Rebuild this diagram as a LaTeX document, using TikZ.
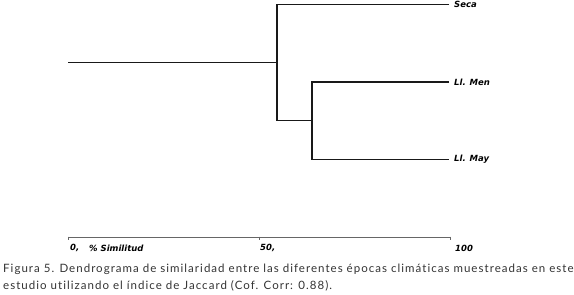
\documentclass[tikz,border=0pt]{standalone}
\usepackage{fontspec}
\setmainfont{Lato}[LetterSpace=9,Ligatures=NoCommon]
\newfontfamily\lblfont{DejaVu Sans}
\begin{document}
\begin{tikzpicture}[x=1pt,y=-1pt,
  branch/.style={line width=1.6pt,black!90},
  axisline/.style={line width=0.7pt,black!60},
  leaflabel/.style={anchor=west,inner sep=0pt,font=\lblfont\fontsize{8.5}{10}\selectfont\bfseries\itshape},
  axislabel/.style={anchor=west,inner sep=0pt,font=\lblfont\fontsize{8.5}{10}\selectfont\bfseries\itshape},
  caption/.style={anchor=west,inner sep=0pt,font=\fontsize{11.5}{13}\selectfont,text=black!80}]
\useasboundingbox (0,0) rectangle (574,295);
% coordinates
\coordinate (root) at (68,62.5);
\coordinate (n1) at (277,62.5);
\coordinate (n2) at (312,120.5);
\coordinate (seca) at (449,4.5);
\coordinate (men) at (449,82);
\coordinate (may) at (449,159.5);
% dendrogram
\draw[branch] (root) -- (n1);
\draw[branch] (seca) -| (n1) |- (n2);
\draw[branch] (men) -| (n2) |- (may);
\node[leaflabel] (lseca) at (454,4.5) {Seca};
\node[leaflabel] (lmen) at (454,82) {Ll. Men};
\node[leaflabel] (lmay) at (454,159.5) {Ll. May};
% axis
\coordinate (a0) at (68,237.7);
\coordinate (a50) at (259,237.7);
\coordinate (a100) at (450,237.7);
\draw[axisline] (a0) -- (a100);
\foreach \t in {a0,a50,a100} \draw[axisline] ([yshift=1pt]\t) -- ++(0,3);
\node[axislabel] (l0) at (70,248) {0,};
\node[axislabel] (lsim) at (89,248) {\% Similitud};
\node[axislabel] (l50) at (260,248) {50,};
\node[axislabel] (l100) at (455,248) {100};
% caption
\node[caption] (cap1) at (3,269) {Figura 5. Dendrograma de similaridad entre las diferentes épocas climáticas muestreadas en este};
\node[caption] (cap2) at (3,285.5) {estudio utilizando el índice de Jaccard (Cof. Corr: 0.88).};
\end{tikzpicture}
\end{document}
